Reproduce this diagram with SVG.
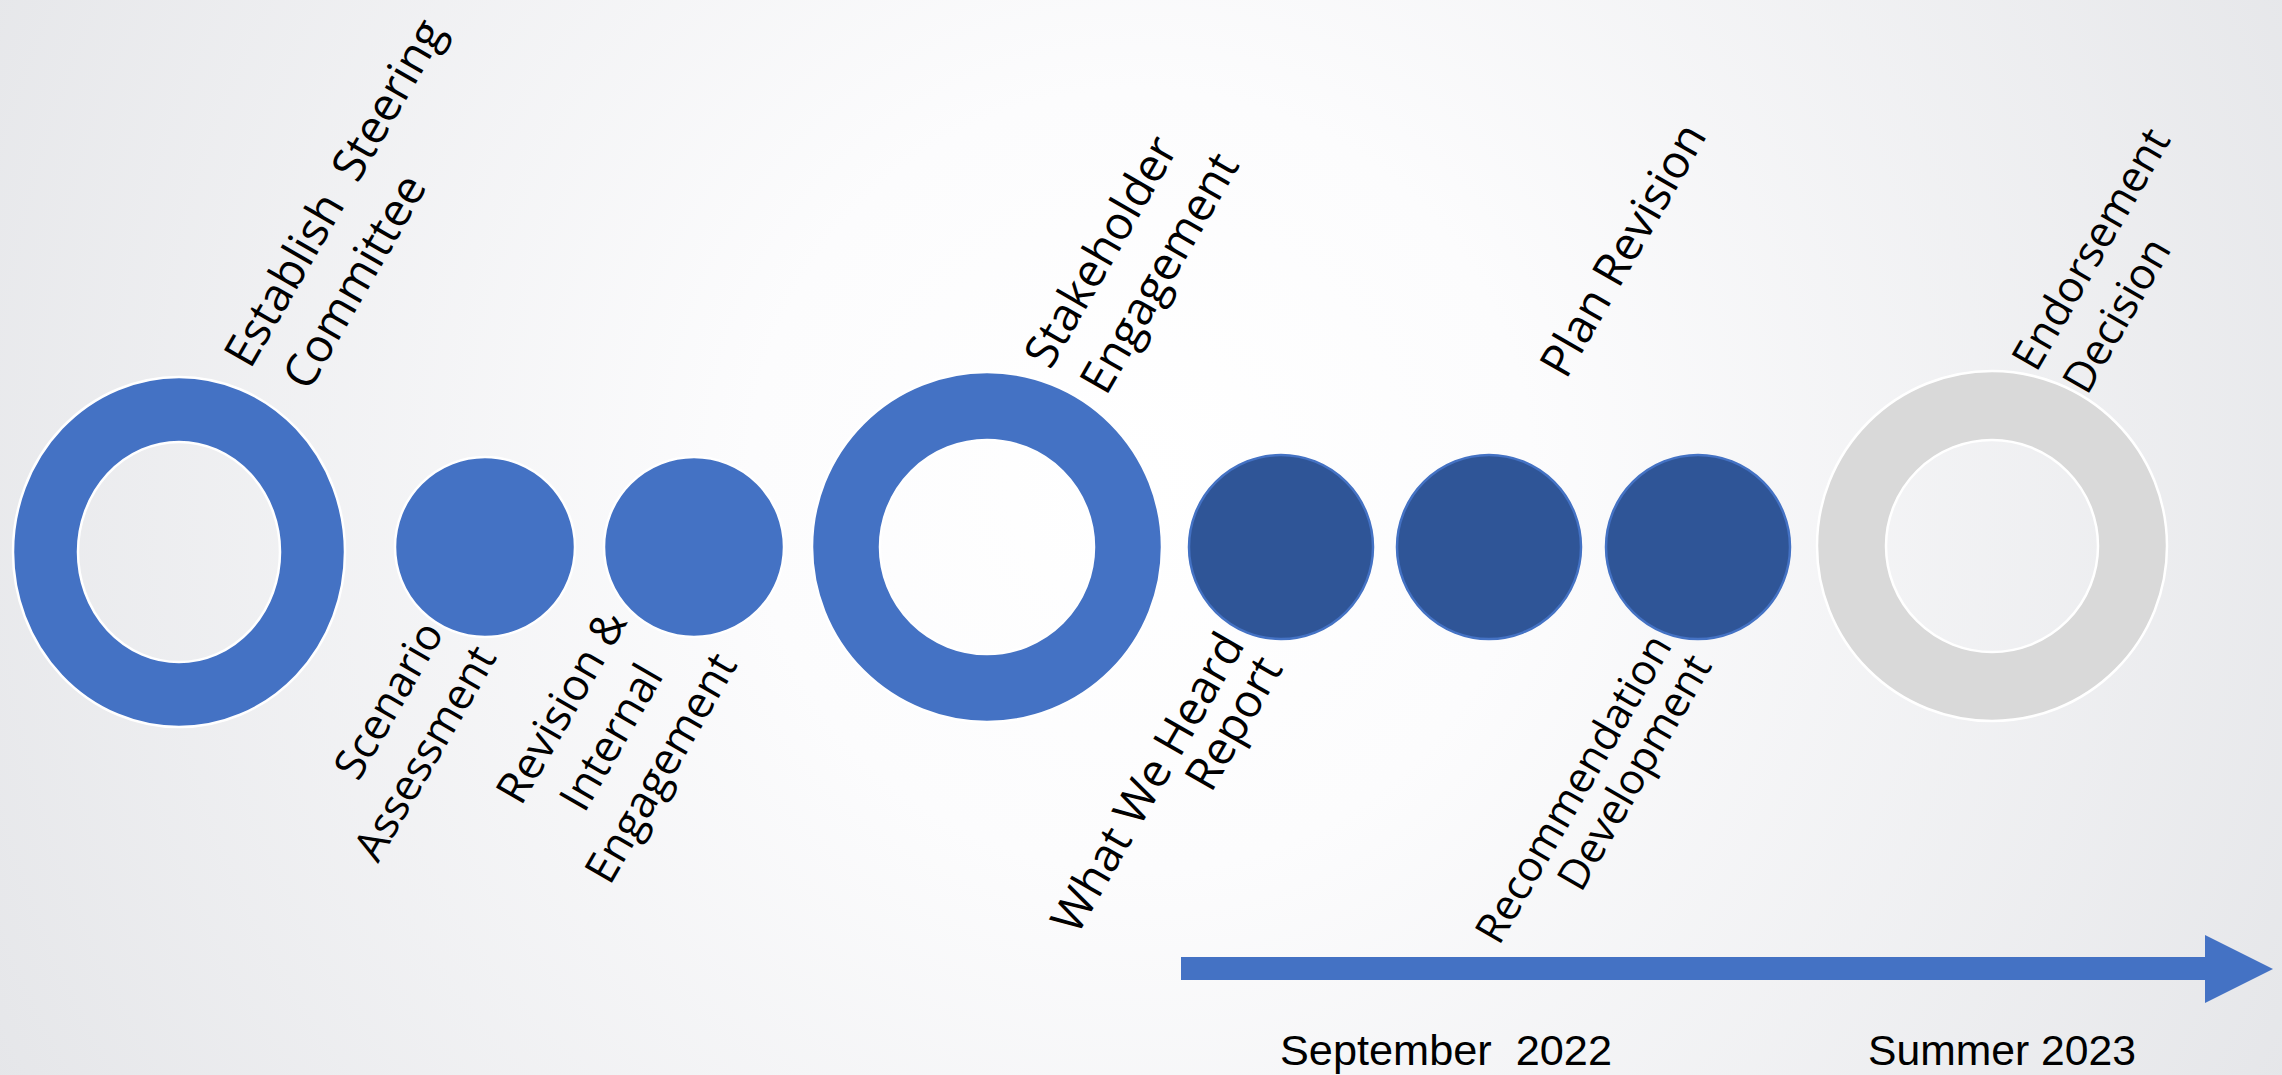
<svg xmlns="http://www.w3.org/2000/svg" width="2282" height="1075" viewBox="0 0 2282 1075">
  <defs>
    <radialGradient id="bg" gradientUnits="userSpaceOnUse" cx="1141" cy="480" r="1300">
      <stop offset="0" stop-color="#FFFFFF"/>
      <stop offset="0.3" stop-color="#FCFCFD"/>
      <stop offset="1" stop-color="#E5E6E9"/>
    </radialGradient>
    <style>
      .ring { fill: #4472C4; fill-rule: evenodd; stroke: #FFFFFF; stroke-width: 2.5; }
      .ring-gray { fill: #D9D9D9; fill-rule: evenodd; stroke: #FFFFFF; stroke-width: 2.5; }
      .dot { fill: #4472C4; stroke: #FFFFFF; stroke-width: 2.5; }
      .dot-dark { fill: #2F5597; stroke: #4472C4; stroke-width: 2.5; }
      .lbl { font-family: "Open Sans", "Segoe UI", "DejaVu Sans", sans-serif; fill: #000000; white-space: pre; }
      .date { font-family: "Liberation Sans", Arial, sans-serif; font-size: 42px; fill: #000000; white-space: pre; }
      .arrow { fill: #4472C4; }
    </style>
  </defs>

  <rect x="0" y="0" width="2282" height="1075" fill="url(#bg)"/>

  <!-- Nodes -->
  <g id="node-establish">
    <path class="ring" d="M13,552 A166,175 0 1,0 345,552 A166,175 0 1,0 13,552 Z M78,552 A101,110 0 1,0 280,552 A101,110 0 1,0 78,552 Z"/>
    <text class="lbl" font-size="46" transform="translate(250.2,370.3) rotate(-60)" xml:space="preserve">Establish  Steering</text>
    <text class="lbl" font-size="46" transform="translate(308.7,392.5) rotate(-60)">Committee</text>
  </g>

  <g id="node-scenario">
    <circle class="dot" cx="485" cy="547" r="90"/>
    <text class="lbl" font-size="43" transform="translate(358.3,782.5) rotate(-60)">Scenario</text>
    <text class="lbl" font-size="43" transform="translate(378,864) rotate(-60)">Assessment</text>
  </g>

  <g id="node-revision">
    <circle class="dot" cx="694" cy="547" r="90"/>
    <text class="lbl" font-size="44" text-anchor="middle" transform="translate(574.6,714.4) rotate(-60)">Revision &amp;</text>
    <text class="lbl" font-size="44" text-anchor="middle" transform="translate(624.3,744.9) rotate(-60)">Internal</text>
    <text class="lbl" font-size="44" text-anchor="middle" transform="translate(673.9,775.4) rotate(-60)">Engagement</text>
  </g>

  <g id="node-stakeholder">
    <path class="ring" d="M812,547 A175,175 0 1,0 1162,547 A175,175 0 1,0 812,547 Z M880,547 A107,107 0 1,0 1094,547 A107,107 0 1,0 880,547 Z"/>
    <text class="lbl" font-size="46" transform="translate(1050.3,370.8) rotate(-60)">Stakeholder</text>
    <text class="lbl" font-size="46" transform="translate(1106.1,397) rotate(-60)">Engagement</text>
  </g>

  <g id="node-whatweheard">
    <circle class="dot-dark" cx="1281" cy="547" r="92"/>
    <text class="lbl" font-size="46" transform="translate(1077,936.5) rotate(-60)">What We Heard</text>
    <text class="lbl" font-size="46" transform="translate(1211,794) rotate(-60)">Report</text>
  </g>

  <g id="node-planrevision">
    <circle class="dot-dark" cx="1489" cy="547" r="92"/>
    <text class="lbl" font-size="46" transform="translate(1566.1,380.6) rotate(-60)">Plan Revision</text>
  </g>

  <g id="node-recommendation">
    <circle class="dot-dark" cx="1698" cy="547" r="92"/>
    <text class="lbl" font-size="42" transform="translate(1499,946.6) rotate(-60)">Recommendation</text>
    <text class="lbl" font-size="42" transform="translate(1581,893.6) rotate(-60)">Development</text>
  </g>

  <g id="node-endorsement">
    <path class="ring-gray" d="M1817,546 A175,175 0 1,0 2167,546 A175,175 0 1,0 1817,546 Z M1886,546 A106,106 0 1,0 2098,546 A106,106 0 1,0 1886,546 Z"/>
    <text class="lbl" font-size="43" transform="translate(2036.3,373.5) rotate(-60)">Endorsement</text>
    <text class="lbl" font-size="43" transform="translate(2087,396.5) rotate(-60)">Decision</text>
  </g>

  <!-- Connectors -->
  <g id="connectors">
    <path class="arrow" d="M1181,957 L2205,957 L2205,935 L2273,969 L2205,1003 L2205,980 L1181,980 Z"/>
  </g>

  <g id="dates">
    <text class="date" x="1280" y="1065" textLength="332" lengthAdjust="spacingAndGlyphs" xml:space="preserve">September  2022</text>
    <text class="date" x="1868" y="1065" textLength="268" lengthAdjust="spacingAndGlyphs">Summer 2023</text>
  </g>
</svg>
